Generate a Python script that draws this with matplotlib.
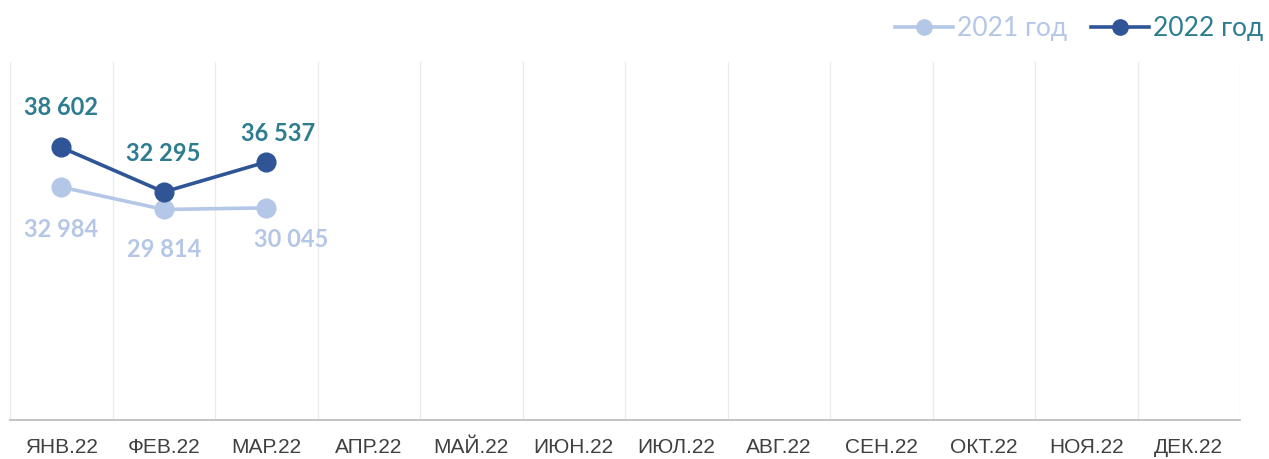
import matplotlib
matplotlib.use("Agg")
import matplotlib.pyplot as plt
from matplotlib.lines import Line2D

months = ["ЯНВ.22", "ФЕВ.22", "МАР.22", "АПР.22", "МАЙ.22", "ИЮН.22",
          "ИЮЛ.22", "АВГ.22", "СЕН.22", "ОКТ.22", "НОЯ.22", "ДЕК.22"]
v2021 = [32984, 29814, 30045]
v2022 = [38602, 32295, 36537]
series_names = ["2021 год", "2022 год"]

c2021 = "#B4C7E7"
c2022 = "#2F5597"
c2022_text = "#2E7C8F"

def fmt(v):
    return f"{v:,}".replace(",", " ")

fig = plt.figure(figsize=(12.69, 4.59), dpi=100)
ax = fig.add_axes([10/1269, 1 - 420/459, 1230/1269, 358/459])

n = len(months)
ax.set_xlim(-0.5, n - 0.5)
ax.set_ylim(0, 50700)

for b in range(n + 1):
    ax.axvline(b - 0.5, color="#EBEBEB", lw=1, zorder=0)

x21 = list(range(len(v2021)))
x22 = list(range(len(v2022)))
ax.plot(x21, v2021, color=c2021, lw=2.6, marker="o", ms=13.5, zorder=3)
ax.plot(x22, v2022, color=c2022, lw=2.6, marker="o", ms=13.5, zorder=4)

lab_font = dict(family=["Lato", "DejaVu Sans"], fontsize=17, fontweight="bold")
off21 = [(0, -42), (0, -40), (25, -32)]
off22 = [(0, 40), (0, 38), (12, 29)]
for i, v in enumerate(v2021):
    ax.annotate(fmt(v), (x21[i], v), xytext=off21[i], textcoords="offset pixels",
                ha="center", va="center", color=c2021, **lab_font)
for i, v in enumerate(v2022):
    ax.annotate(fmt(v), (x22[i], v), xytext=off22[i], textcoords="offset pixels",
                ha="center", va="center", color=c2022_text, **lab_font)

ax.set_xticks(range(n))
ax.set_xticklabels(months, fontsize=15, family=["Liberation Sans", "DejaVu Sans"],
                   color="#404040")
ax.tick_params(axis="x", length=0, pad=13)
ax.set_yticks([])
for s in ["top", "left", "right"]:
    ax.spines[s].set_visible(False)
ax.spines["bottom"].set_color("#BFBFBF")
ax.spines["bottom"].set_linewidth(1.3)

handles = [Line2D([], [], color=c2021, lw=2.6, marker="o", ms=11),
           Line2D([], [], color=c2022, lw=2.6, marker="o", ms=11)]
leg = fig.legend(handles, series_names, loc="upper right",
                 bbox_to_anchor=(1 + 18/1269, 1 + 8/459),
                 ncol=2, frameon=False, handlelength=2.2, handletextpad=0.15,
                 columnspacing=0.9, prop=dict(family=["Lato", "DejaVu Sans"], size=19))
leg.get_texts()[0].set_color(c2021)
leg.get_texts()[1].set_color(c2022_text)

fig.savefig("out.png", dpi=100, facecolor="white")
